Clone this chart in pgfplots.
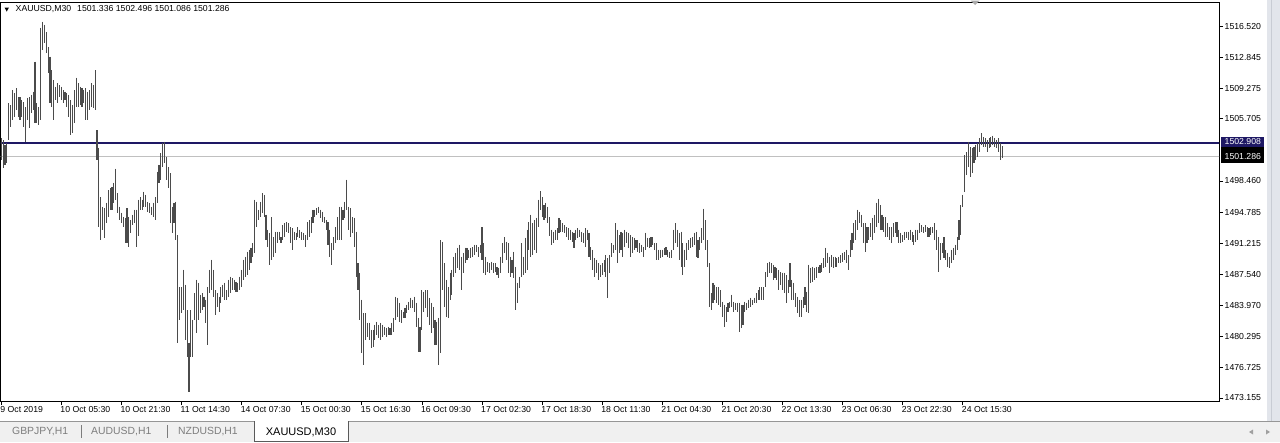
\documentclass[border=0pt]{standalone}
\usepackage{pgfplots}
\pgfplotsset{compat=1.18}
\usepackage{pgfplotstable}
\usepackage{fontspec}
\setmainfont{Liberation Sans}
\definecolor{barc}{RGB}{75,75,75}
\definecolor{navyline}{RGB}{30,24,100}
\definecolor{bidline}{RGB}{192,192,192}
\definecolor{tabbg}{RGB}{240,240,240}
\definecolor{tabtxt}{RGB}{125,125,125}
\definecolor{rband}{RGB}{226,229,235}
\definecolor{rline}{RGB}{200,204,212}
\definecolor{tabline}{RGB}{150,150,150}
\definecolor{tabborder}{RGB}{90,90,90}
\definecolor{arrowc}{RGB}{160,160,160}
\definecolor{shiftc}{RGB}{170,170,170}
\newcommand\lbl{\fontsize{8.7}{10}\selectfont}
\newcommand\tbl{\fontsize{10.4}{12}\selectfont}

\pgfplotstableread{
x h l
0 1503.46 1500.90
1 1503.23 1499.97
2 1502.65 1500.32
3 1502.88 1500.55
4 1507.54 1503.23
5 1507.31 1504.74
6 1509.06 1505.56
7 1508.71 1505.91
8 1509.29 1506.73
9 1508.24 1505.91
10 1508.24 1505.56
11 1507.89 1505.91
12 1507.66 1504.74
13 1507.07 1503.00
14 1508.13 1505.56
15 1508.24 1504.63
16 1508.48 1506.38
17 1508.83 1506.73
18 1512.33 1505.21
19 1507.54 1505.21
20 1507.07 1504.98
21 1516.29 1505.56
22 1516.99 1513.72
23 1516.64 1514.54
24 1515.82 1513.37
25 1514.07 1511.04
26 1512.91 1507.54
27 1511.39 1507.07
28 1510.22 1505.56
29 1509.41 1507.89
30 1509.87 1507.54
31 1509.64 1508.24
32 1509.41 1507.89
33 1509.06 1507.54
34 1508.83 1507.89
35 1508.71 1507.07
36 1508.48 1505.91
37 1507.89 1503.81
38 1507.31 1504.04
39 1509.06 1505.21
40 1510.46 1507.07
41 1509.87 1507.07
42 1509.41 1507.31
43 1509.29 1507.07
44 1509.06 1507.54
45 1509.29 1505.56
46 1508.83 1505.56
47 1509.06 1506.73
48 1509.87 1507.07
49 1509.64 1506.96
50 1511.39 1506.73
51 1504.39 1500.90
52 1502.30 1493.08
53 1496.58 1491.57
54 1495.42 1492.74
55 1495.30 1491.81
56 1495.89 1493.55
57 1497.40 1494.25
58 1497.63 1495.07
59 1497.75 1495.07
60 1498.22 1495.89
61 1499.85 1496.24
62 1497.05 1494.72
63 1495.42 1493.90
64 1494.72 1493.55
65 1494.25 1493.08
66 1494.14 1491.22
67 1495.30 1491.22
68 1494.25 1490.75
69 1493.90 1492.39
70 1494.49 1493.32
71 1495.07 1493.55
72 1495.07 1490.75
73 1496.24 1492.04
74 1496.58 1495.07
75 1496.24 1495.07
76 1497.17 1495.42
77 1496.82 1495.42
78 1496.01 1494.84
79 1495.89 1494.72
80 1495.42 1494.49
81 1495.89 1494.25
82 1496.58 1493.90
83 1499.50 1495.89
84 1500.32 1498.22
85 1501.71 1498.57
86 1502.88 1500.08
87 1503.00 1500.55
88 1501.25 1498.57
89 1500.08 1497.63
90 1499.38 1493.55
91 1495.42 1492.39
92 1495.89 1493.55
93 1496.01 1491.57
94 1492.15 1479.57
95 1486.09 1482.25
96 1486.09 1483.06
97 1488.08 1483.41
98 1486.33 1479.92
99 1483.41 1477.93
100 1479.57 1473.86
101 1483.41 1477.93
102 1482.25 1477.93
103 1485.39 1482.25
104 1486.91 1480.73
105 1486.56 1482.25
106 1485.16 1483.06
107 1485.39 1483.41
108 1484.93 1483.76
109 1484.58 1481.90
110 1486.09 1479.34
111 1488.08 1485.39
112 1489.24 1485.74
113 1488.08 1484.93
114 1485.74 1482.83
115 1485.39 1483.76
116 1484.93 1483.18
117 1486.09 1484.23
118 1486.33 1484.93
119 1486.56 1484.58
120 1485.74 1484.58
121 1486.91 1484.93
122 1487.26 1485.39
123 1487.14 1485.74
124 1486.91 1485.74
125 1486.68 1485.51
126 1486.56 1485.51
127 1487.26 1485.74
128 1488.08 1486.09
129 1489.24 1486.91
130 1489.59 1487.26
131 1490.18 1487.49
132 1490.41 1488.08
133 1490.64 1488.89
134 1491.22 1489.59
135 1496.24 1490.06
136 1496.01 1493.08
137 1495.07 1493.90
138 1496.01 1494.25
139 1497.05 1494.72
140 1496.82 1494.25
141 1494.49 1491.57
142 1492.74 1490.75
143 1492.39 1488.66
144 1494.25 1489.24
145 1491.92 1489.59
146 1492.51 1490.06
147 1492.51 1491.22
148 1492.51 1491.57
149 1491.92 1491.22
150 1493.32 1491.57
151 1493.55 1491.92
152 1493.67 1492.51
153 1493.55 1492.39
154 1493.08 1491.22
155 1492.97 1490.41
156 1492.51 1491.57
157 1492.39 1491.57
158 1493.08 1491.92
159 1492.74 1491.81
160 1492.51 1491.57
161 1492.39 1491.57
162 1492.15 1490.75
163 1493.67 1491.57
164 1493.90 1491.92
165 1494.25 1492.39
166 1495.07 1493.55
167 1495.07 1494.25
168 1495.30 1494.49
169 1495.42 1494.72
170 1495.07 1494.14
171 1494.84 1493.67
172 1494.25 1493.55
173 1493.90 1492.74
174 1493.67 1490.99
175 1492.74 1489.59
176 1491.22 1488.66
177 1491.92 1490.41
178 1493.08 1491.22
179 1494.25 1491.57
180 1495.42 1491.57
181 1495.42 1491.57
182 1495.07 1493.90
183 1496.01 1494.14
184 1498.57 1495.07
185 1495.42 1492.74
186 1495.30 1491.92
187 1494.25 1492.39
188 1494.14 1490.75
189 1492.51 1487.26
190 1488.89 1485.74
191 1487.73 1482.25
192 1484.58 1478.40
193 1483.06 1476.99
194 1483.06 1479.92
195 1481.90 1480.27
196 1481.90 1479.92
197 1481.08 1478.98
198 1481.08 1479.10
199 1481.67 1479.92
200 1482.02 1480.50
201 1481.67 1480.15
202 1481.90 1479.92
203 1481.67 1480.27
204 1481.43 1480.50
205 1481.32 1480.27
206 1481.43 1480.50
207 1481.32 1480.50
208 1481.90 1480.50
209 1482.48 1480.85
210 1484.93 1482.25
211 1484.81 1482.60
212 1484.23 1482.02
213 1483.41 1481.90
214 1483.18 1482.48
215 1483.65 1482.48
216 1484.00 1483.06
217 1484.35 1483.41
218 1484.81 1483.65
219 1484.58 1483.65
220 1484.93 1483.18
221 1484.23 1481.43
222 1482.48 1478.52
223 1481.43 1478.52
224 1485.74 1481.08
225 1485.51 1483.18
226 1485.74 1483.65
227 1485.74 1482.60
228 1484.81 1481.67
229 1484.23 1480.73
230 1483.76 1481.32
231 1482.25 1479.34
232 1482.02 1479.34
233 1482.48 1476.99
234 1491.57 1478.40
235 1491.34 1485.74
236 1488.89 1483.76
237 1486.91 1482.60
238 1486.09 1482.48
239 1487.73 1484.58
240 1488.08 1485.16
241 1489.59 1487.26
242 1490.06 1487.73
243 1490.64 1488.31
244 1490.99 1488.08
245 1489.59 1485.74
246 1490.06 1487.73
247 1490.64 1488.89
248 1490.64 1489.24
249 1490.41 1489.47
250 1490.64 1489.47
251 1490.75 1489.59
252 1490.99 1489.82
253 1490.99 1490.18
254 1490.75 1489.59
255 1490.99 1490.06
256 1493.08 1489.24
257 1491.22 1487.73
258 1489.59 1487.49
259 1489.01 1487.84
260 1488.89 1487.73
261 1489.01 1488.08
262 1488.89 1487.73
263 1488.89 1487.84
264 1488.43 1487.49
265 1488.31 1487.14
266 1489.59 1487.73
267 1491.22 1488.89
268 1491.92 1490.06
269 1491.34 1489.24
270 1491.22 1487.73
271 1489.59 1487.26
272 1489.24 1487.73
273 1490.18 1487.14
274 1488.43 1483.41
275 1486.56 1484.23
276 1487.26 1485.98
277 1491.22 1487.26
278 1489.59 1487.49
279 1491.81 1487.73
280 1492.74 1488.08
281 1493.67 1490.41
282 1494.49 1489.59
283 1493.55 1489.82
284 1493.90 1490.41
285 1494.14 1490.06
286 1496.24 1493.08
287 1497.28 1495.07
288 1496.58 1494.25
289 1495.65 1493.90
290 1495.89 1494.14
291 1495.42 1493.55
292 1494.25 1492.04
293 1492.74 1490.99
294 1492.51 1491.22
295 1492.74 1491.57
296 1492.97 1491.57
297 1494.14 1492.39
298 1493.90 1492.51
299 1493.55 1492.51
300 1493.32 1492.39
301 1493.08 1491.92
302 1492.97 1491.57
303 1492.74 1491.57
304 1492.51 1491.34
305 1492.39 1490.64
306 1492.74 1491.57
307 1492.97 1491.81
308 1492.74 1491.92
309 1492.51 1491.34
310 1492.39 1491.22
311 1492.97 1490.75
312 1492.74 1491.57
313 1492.39 1489.59
314 1490.75 1489.24
315 1490.41 1488.08
316 1489.47 1487.26
317 1489.24 1487.73
318 1488.89 1486.91
319 1488.66 1487.26
320 1488.89 1487.49
321 1489.24 1487.84
322 1489.82 1487.26
323 1489.47 1484.81
324 1489.82 1487.73
325 1491.22 1489.59
326 1490.99 1490.06
327 1493.55 1490.41
328 1492.74 1488.89
329 1492.15 1490.06
330 1492.51 1490.41
331 1492.39 1489.59
332 1492.74 1490.75
333 1492.51 1491.22
334 1492.39 1490.64
335 1492.15 1489.59
336 1491.92 1490.06
337 1491.81 1490.41
338 1491.57 1490.64
339 1491.57 1490.18
340 1491.22 1490.06
341 1490.99 1490.18
342 1490.75 1489.59
343 1492.39 1490.41
344 1491.81 1490.75
345 1491.81 1490.64
346 1491.92 1490.75
347 1491.92 1490.99
348 1491.22 1490.41
349 1491.22 1489.24
350 1490.41 1489.24
351 1490.41 1489.47
352 1490.41 1489.59
353 1490.64 1489.82
354 1490.75 1489.82
355 1490.41 1489.59
356 1490.18 1489.47
357 1490.41 1489.47
358 1492.74 1490.41
359 1493.55 1491.22
360 1492.74 1490.75
361 1492.39 1489.24
362 1492.51 1488.43
363 1491.22 1487.49
364 1490.41 1488.43
365 1491.22 1489.24
366 1491.57 1490.41
367 1491.81 1490.64
368 1491.92 1490.75
369 1492.39 1490.99
370 1492.51 1489.59
371 1491.57 1489.47
372 1491.92 1490.41
373 1492.97 1491.22
374 1495.19 1491.57
375 1493.90 1490.41
376 1491.57 1488.43
377 1488.89 1483.76
378 1485.39 1483.41
379 1486.56 1484.23
380 1486.33 1484.58
381 1486.09 1484.23
382 1486.09 1484.00
383 1485.74 1483.76
384 1484.35 1482.60
385 1484.00 1481.43
386 1483.76 1482.02
387 1484.23 1483.18
388 1484.35 1483.65
389 1485.16 1483.76
390 1484.35 1483.18
391 1484.23 1483.41
392 1484.23 1483.18
393 1484.23 1480.85
394 1484.00 1481.32
395 1484.00 1481.67
396 1484.35 1483.18
397 1484.23 1483.41
398 1484.58 1483.65
399 1484.81 1483.76
400 1484.58 1484.00
401 1484.81 1484.23
402 1485.39 1484.23
403 1485.74 1484.58
404 1486.09 1484.58
405 1486.09 1484.58
406 1486.09 1484.58
407 1487.84 1486.09
408 1488.89 1487.26
409 1489.01 1487.73
410 1488.89 1487.73
411 1488.66 1486.91
412 1488.43 1487.14
413 1488.31 1486.91
414 1488.08 1485.74
415 1487.84 1486.33
416 1487.73 1485.74
417 1487.73 1485.39
418 1487.49 1484.23
419 1486.91 1485.39
420 1488.89 1486.09
421 1486.91 1484.58
422 1486.56 1484.58
423 1485.39 1483.76
424 1484.93 1483.06
425 1484.58 1482.60
426 1484.58 1482.60
427 1484.93 1483.65
428 1486.09 1484.00
429 1485.51 1483.18
430 1488.66 1483.06
431 1488.31 1486.56
432 1488.43 1486.68
433 1488.31 1486.91
434 1488.43 1487.14
435 1488.43 1487.73
436 1488.66 1487.73
437 1488.89 1487.84
438 1489.47 1488.31
439 1490.64 1488.43
440 1490.06 1488.89
441 1489.59 1487.73
442 1489.82 1488.43
443 1489.59 1488.31
444 1489.59 1488.43
445 1489.47 1488.43
446 1489.59 1488.89
447 1489.82 1488.89
448 1490.06 1489.01
449 1490.18 1489.24
450 1490.41 1488.89
451 1489.82 1488.08
452 1491.57 1489.59
453 1492.39 1490.41
454 1493.55 1491.22
455 1493.90 1491.57
456 1495.07 1492.74
457 1494.84 1493.55
458 1494.49 1493.08
459 1493.55 1491.22
460 1493.55 1490.18
461 1493.08 1491.22
462 1493.08 1491.57
463 1493.55 1491.92
464 1494.14 1491.57
465 1494.49 1492.39
466 1495.89 1493.08
467 1496.36 1493.55
468 1495.65 1492.74
469 1494.49 1492.74
470 1494.25 1492.51
471 1494.25 1491.92
472 1493.55 1491.92
473 1493.08 1491.57
474 1493.08 1491.22
475 1493.55 1491.92
476 1493.67 1492.39
477 1493.67 1491.92
478 1492.74 1491.22
479 1492.39 1491.22
480 1492.15 1491.34
481 1492.51 1491.57
482 1492.51 1491.81
483 1492.51 1491.57
484 1492.74 1491.57
485 1492.51 1491.34
486 1492.15 1490.99
487 1492.74 1491.34
488 1492.74 1491.57
489 1493.55 1492.39
490 1493.32 1492.51
491 1493.08 1492.39
492 1493.32 1492.51
493 1493.08 1491.92
494 1492.97 1491.92
495 1493.08 1492.15
496 1493.08 1492.39
497 1493.55 1491.57
498 1492.74 1490.41
499 1491.92 1487.84
500 1491.22 1489.24
501 1491.22 1490.06
502 1491.92 1489.47
503 1490.41 1489.24
504 1490.06 1488.43
505 1489.59 1488.31
506 1490.41 1488.89
507 1490.64 1489.24
508 1490.99 1489.82
509 1491.92 1490.41
510 1493.90 1491.57
511 1495.65 1492.15
512 1496.82 1495.42
513 1501.48 1497.17
514 1501.83 1499.15
515 1503.00 1500.08
516 1502.41 1498.92
517 1502.30 1499.38
518 1502.41 1500.55
519 1502.65 1500.90
520 1502.88 1501.25
521 1503.46 1501.83
522 1504.04 1502.65
523 1503.58 1502.41
524 1503.46 1502.41
525 1503.23 1501.83
526 1503.46 1502.30
527 1503.58 1502.41
528 1503.70 1502.65
529 1503.46 1502.41
530 1503.23 1502.30
531 1503.46 1501.83
532 1502.88 1500.90
533 1502.50 1501.09
}\bars

\begin{document}
\begin{tikzpicture}
\useasboundingbox (0,0) rectangle (1280pt,-442pt);
\fill[white] (0,0) rectangle (1280pt,-442pt);
% right side band
\fill[rband] (1267pt,0) rectangle (1280pt,-421pt);
\draw[rline, line width=1pt] (1271pt,0) -- (1271pt,-421pt);
% tab bar
\fill[tabbg] (0,-421pt) rectangle (1280pt,-442pt);
\draw[tabline, line width=0.8pt] (0,-421.5pt) -- (1280pt,-421.5pt);

\begin{axis}[
  at={(0.5pt,-401pt)}, anchor=south west,
  scale only axis, width=1218.5pt, height=399pt,
  xmin=-0.37, xmax=648.45, ymin=1472.80, ymax=1519.32,
  axis line style={black, line width=0.8pt},
  tick align=outside, major tick length=4pt,
  tick style={black, line width=0.7pt},
  xtick pos=bottom, ytick pos=right, yticklabel pos=right,
  xtick={0,32,...,512},
  xticklabels={9 Oct 2019,10 Oct 05:30,10 Oct 21:30,11 Oct 14:30,14 Oct 07:30,15 Oct 00:30,15 Oct 16:30,16 Oct 09:30,17 Oct 02:30,17 Oct 18:30,18 Oct 11:30,21 Oct 04:30,21 Oct 20:30,22 Oct 13:30,23 Oct 06:30,23 Oct 22:30,24 Oct 15:30},
  ytick={1473.155,1476.725,1480.295,1483.970,1487.540,1491.215,1494.785,1498.460,1505.705,1509.275,1512.845,1516.520},
  yticklabels={1473.155,1476.725,1480.295,1483.970,1487.540,1491.215,1494.785,1498.460,1505.705,1509.275,1512.845,1516.520},
  xticklabel style={anchor=north west, inner sep=0pt, xshift=-1pt, yshift=-1.5pt, font=\lbl},
  yticklabel style={anchor=west, inner sep=0pt, xshift=1.5pt, font=\lbl},
]
\addplot[bidline, line width=0.9pt, forget plot] coordinates {(-1,1501.286) (650,1501.286)};
\addplot[navyline, line width=2pt, forget plot] coordinates {(-1,1502.908) (650,1502.908)};
\addplot[only marks, mark size=0pt, mark options={draw=none, fill=none}, forget plot,
  error bars/.cd, y dir=minus, y explicit, error mark=none,
  error bar style={draw=barc, line width=1.1pt}]
  table[x=x, y=h, y error expr=\thisrow{h}-\thisrow{l}] {\bars};
\end{axis}

% price tags
\fill[navyline] (1221pt,-136.5pt) rectangle (1264pt,-147pt);
\node[white, font=\lbl, anchor=west, inner sep=0pt] at (1224.5pt,-141.8pt) {1502.908};
\fill[black] (1221pt,-147pt) rectangle (1264pt,-162.5pt);
\node[white, font=\lbl, anchor=west, inner sep=0pt] at (1224.5pt,-156.5pt) {1501.286};

% title
\fill[black] (4.5pt,-7.5pt) -- (9pt,-7.5pt) -- (6.75pt,-11.5pt) -- cycle;
\node[anchor=west, inner sep=0pt, font=\lbl] at (15.5pt,-9.5pt) {XAUUSD,M30\hspace{3.5pt} 1501.336 1502.496 1501.086 1501.286};
% shift marker
\fill[shiftc] (970.5pt,-0.5pt) -- (979.5pt,-0.5pt) -- (975pt,-5pt) -- cycle;

% tabs
\node[anchor=west, inner sep=0pt, font=\tbl, text=tabtxt] at (12pt,-432pt) {GBPJPY,H1};
\draw[tabtxt, line width=0.6pt] (81.5pt,-425pt) -- (81.5pt,-438pt);
\node[anchor=west, inner sep=0pt, font=\tbl, text=tabtxt] at (91pt,-432pt) {AUDUSD,H1};
\draw[tabtxt, line width=0.6pt] (167.5pt,-425pt) -- (167.5pt,-438pt);
\node[anchor=west, inner sep=0pt, font=\tbl, text=tabtxt] at (178pt,-432pt) {NZDUSD,H1};
\fill[white] (254pt,-421pt) rectangle (348pt,-441pt);
\draw[tabborder, line width=0.9pt] (254pt,-421pt) -- (254pt,-441pt) -- (348pt,-441pt) -- (348pt,-421pt);
\node[anchor=center, inner sep=0pt, font=\fontsize{11}{12}\selectfont] at (301pt,-432pt) {XAUUSD,M30};
% scroll arrows
\fill[arrowc] (1249pt,-432pt) -- (1253pt,-429.5pt) -- (1253pt,-434.5pt) -- cycle;
\fill[arrowc] (1270pt,-432pt) -- (1266pt,-429.5pt) -- (1266pt,-434.5pt) -- cycle;
\end{tikzpicture}
\end{document}
